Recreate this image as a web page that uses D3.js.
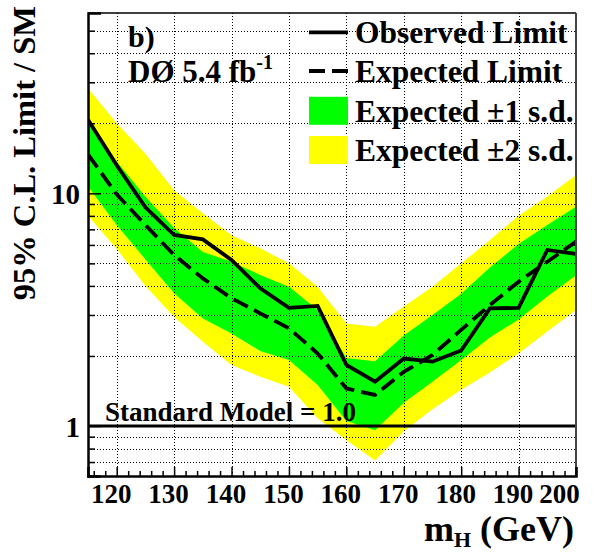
<!DOCTYPE html>
<html>
<head>
<meta charset="utf-8">
<script src="https://cdn.jsdelivr.net/npm/d3@7"></script>
<style>
  html, body { margin: 0; padding: 0; background: #fff; }
  svg { display: block; }
  text { font-family: "Liberation Serif", "Times New Roman", serif; font-weight: bold; fill: #000; }
</style>
</head>
<body>
<svg id="chart" width="602" height="552"></svg>
<script>
// ---- data ----
const mass      = [115,120,125,130,135,140,145,150,155,160,165,170,175,180,185,190,195,200];
const observed  = [20.7,13.2,8.7,6.62,6.34,5.17,3.91,3.22,3.28,1.83,1.55,1.95,1.89,2.11,3.2,3.22,5.71,5.49];
const expected  = [14.7,9.9,7.31,5.43,4.31,3.54,3.05,2.63,2.05,1.45,1.36,1.71,2.02,2.59,3.31,4.17,5.08,6.2];
const plus1sd   = [21,13.7,9.67,7.1,5.6,5.08,4.46,3.97,3.15,1.96,1.9,2.45,3.0,3.7,4.8,6.05,7.3,8.76];
const minus1sd  = [10.7,7.3,5.2,3.72,2.9,2.5,2.1,1.92,1.5,1.05,0.96,1.26,1.55,1.92,2.4,2.87,3.6,4.45];
const plus2sd   = [28.3,20,14.8,10.3,8.2,6.6,5.8,5.0,3.97,2.76,2.67,3.26,3.97,5.0,6.3,8.0,9.7,12.0];
const minus2sd  = [8.0,5.76,4.0,2.94,2.3,1.83,1.63,1.475,1.08,0.87,0.71,0.95,1.18,1.43,1.7,2.05,2.55,3.15];
const smValue   = 1.0;
const xMajorTicks = [120,130,140,150,160,170,180,190,200];
const xMinorTicks = d3.range(116, 200, 2);
const yMajorTicks = [1, 10];
const yMinorTicks = [0.7,0.8,0.9,2,3,4,5,6,7,8,9,20,30,40,50];
const xGridValues = [120,130,140,150,160,170,180,190];
const yGridValues = [0.7,0.8,0.9,1,2,3,4,5,6,7,8,9,10,20,30,40,50];
const legendItems = ["Observed Limit", "Expected Limit", "Expected \u00B11 s.d.", "Expected \u00B12 s.d."];

// ---- layout ----
const L = 88, R = 576, T = 13, B = 476;
const svg = d3.select("#chart");
const x = d3.scaleLinear().domain([115, 200]).range([L, R]);
const y = d3.scaleLog().domain([0.6097, 59.56]).range([B, T]);

svg.append("defs").append("clipPath").attr("id", "clip")
  .append("rect").attr("x", L).attr("y", T).attr("width", R - L).attr("height", B - T);

const pts = mass.map((m, i) => ({m, obs: observed[i], exp: expected[i], p1: plus1sd[i], m1: minus1sd[i], p2: plus2sd[i], m2: minus2sd[i]}));

const plot = svg.append("g").attr("clip-path", "url(#clip)");

// bands
plot.append("path").datum(pts)
  .attr("d", d3.area().x(d => x(d.m)).y0(d => y(d.m2)).y1(d => y(d.p2)))
  .attr("fill", "#ffff00");
plot.append("path").datum(pts)
  .attr("d", d3.area().x(d => x(d.m)).y0(d => y(d.m1)).y1(d => y(d.p1)))
  .attr("fill", "#00ff00");

// grid
const grid = svg.append("g").attr("stroke", "#000").attr("stroke-width", 1)
  .attr("stroke-dasharray", "1,2").attr("shape-rendering", "crispEdges");
grid.selectAll("line.gx").data(xGridValues).join("line")
  .attr("x1", d => Math.round(x(d)) + 0.5).attr("x2", d => Math.round(x(d)) + 0.5)
  .attr("y1", T).attr("y2", B);
grid.selectAll("line.gy").data(yGridValues).join("line")
  .attr("y1", d => Math.round(y(d)) + 0.5).attr("y2", d => Math.round(y(d)) + 0.5)
  .attr("x1", L).attr("x2", R);

// SM line
plot.append("line")
  .attr("x1", L).attr("x2", R).attr("y1", y(smValue)).attr("y2", y(smValue))
  .attr("stroke", "#000").attr("stroke-width", 3);

// limit curves
plot.append("path").datum(pts)
  .attr("d", d3.line().x(d => x(d.m)).y(d => y(d.exp)))
  .attr("fill", "none").attr("stroke", "#000").attr("stroke-width", 3.8)
  .attr("stroke-dasharray", "16,7");
plot.append("path").datum(pts)
  .attr("d", d3.line().x(d => x(d.m)).y(d => y(d.obs)))
  .attr("fill", "none").attr("stroke", "#000").attr("stroke-width", 3.8)
  .attr("stroke-linejoin", "miter");

// frame
svg.append("line").attr("x1", L).attr("x2", R).attr("y1", T).attr("y2", T).attr("stroke", "#000").attr("stroke-width", 1.5);
svg.append("line").attr("x1", R).attr("x2", R).attr("y1", T).attr("y2", B).attr("stroke", "#444").attr("stroke-width", 2);

// axes
const xAxisMajor = d3.axisBottom(x).tickValues(xMajorTicks).tickSize(-9).tickPadding(8).tickFormat(d3.format("d"));
const gx = svg.append("g").attr("transform", `translate(0,${B})`).call(xAxisMajor);
gx.select(".domain").attr("stroke-width", 2.5);
gx.selectAll(".tick line").attr("stroke-width", 1.5);
gx.selectAll("text").attr("font-size", 27).attr("font-family", "Liberation Serif").attr("font-weight", "bold")
  .attr("dx", d => d === 200 ? -17 : -6);
const xAxisMinor = d3.axisBottom(x).tickValues(xMinorTicks.filter(v => !xMajorTicks.includes(v))).tickSize(-5).tickFormat("");
const gxm = svg.append("g").attr("transform", `translate(0,${B})`).call(xAxisMinor);
gxm.select(".domain").remove();
gxm.selectAll(".tick line").attr("stroke-width", 1.5);

const yAxisMajor = d3.axisLeft(y).tickValues(yMajorTicks).tickSize(-13).tickPadding(8).tickFormat(d3.format("d"));
const gy = svg.append("g").attr("transform", `translate(${L},0)`).call(yAxisMajor);
gy.select(".domain").attr("stroke-width", 2.5);
gy.selectAll(".tick line").attr("stroke-width", 1.5);
gy.selectAll("text").attr("font-size", 29).attr("font-family", "Liberation Serif").attr("font-weight", "bold").attr("dy", "0.36em");
const yAxisMinor = d3.axisLeft(y).tickValues(yMinorTicks).tickSize(-7).tickFormat("");
const gym = svg.append("g").attr("transform", `translate(${L},0)`).call(yAxisMinor);
gym.select(".domain").remove();
gym.selectAll(".tick line").attr("stroke-width", 1.5);

// SM label
svg.append("text").attr("x", 105).attr("y", 421).attr("font-size", 27).text("Standard Model = 1.0");

// b) and DØ labels
svg.append("text").attr("x", 128).attr("y", 47).attr("font-size", 30).text("b)");
const dz = svg.append("text").attr("x", 128).attr("y", 82).attr("font-size", 31);
dz.append("tspan").text("D\u00D8 5.4 fb");
dz.append("tspan").attr("font-size", 20).attr("dy", -13).text("-1");

// legend
const legY = [32.3, 71, 110.8, 150];
const lg = svg.append("g");
lg.append("line").attr("x1", 309).attr("x2", 348).attr("y1", legY[0]).attr("y2", legY[0]).attr("stroke", "#000").attr("stroke-width", 3.8);
lg.append("line").attr("x1", 309).attr("x2", 348).attr("y1", legY[1]).attr("y2", legY[1]).attr("stroke", "#000").attr("stroke-width", 3.8).attr("stroke-dasharray", "16,7");
lg.append("rect").attr("x", 309).attr("y", legY[2] - 14).attr("width", 39).attr("height", 28).attr("fill", "#00ff00");
lg.append("rect").attr("x", 309).attr("y", legY[3] - 14).attr("width", 39).attr("height", 28).attr("fill", "#ffff00");
lg.selectAll("text").data(legendItems).join("text")
  .attr("x", 355).attr("y", (d, i) => legY[i] + 11).attr("font-size", 31.5).text(d => d);

// axis titles
const xt = svg.append("text").attr("x", 574).attr("y", 541).attr("text-anchor", "end").attr("font-size", 36);
xt.append("tspan").text("m");
xt.append("tspan").attr("font-size", 22).attr("dy", 6).text("H");
xt.append("tspan").attr("dy", -6).text(" (GeV)");

svg.append("text").attr("transform", "translate(35,6) rotate(-90)").attr("text-anchor", "end")
  .attr("font-size", 32.5).text("95% C.L. Limit / SM");
</script>
</body>
</html>
